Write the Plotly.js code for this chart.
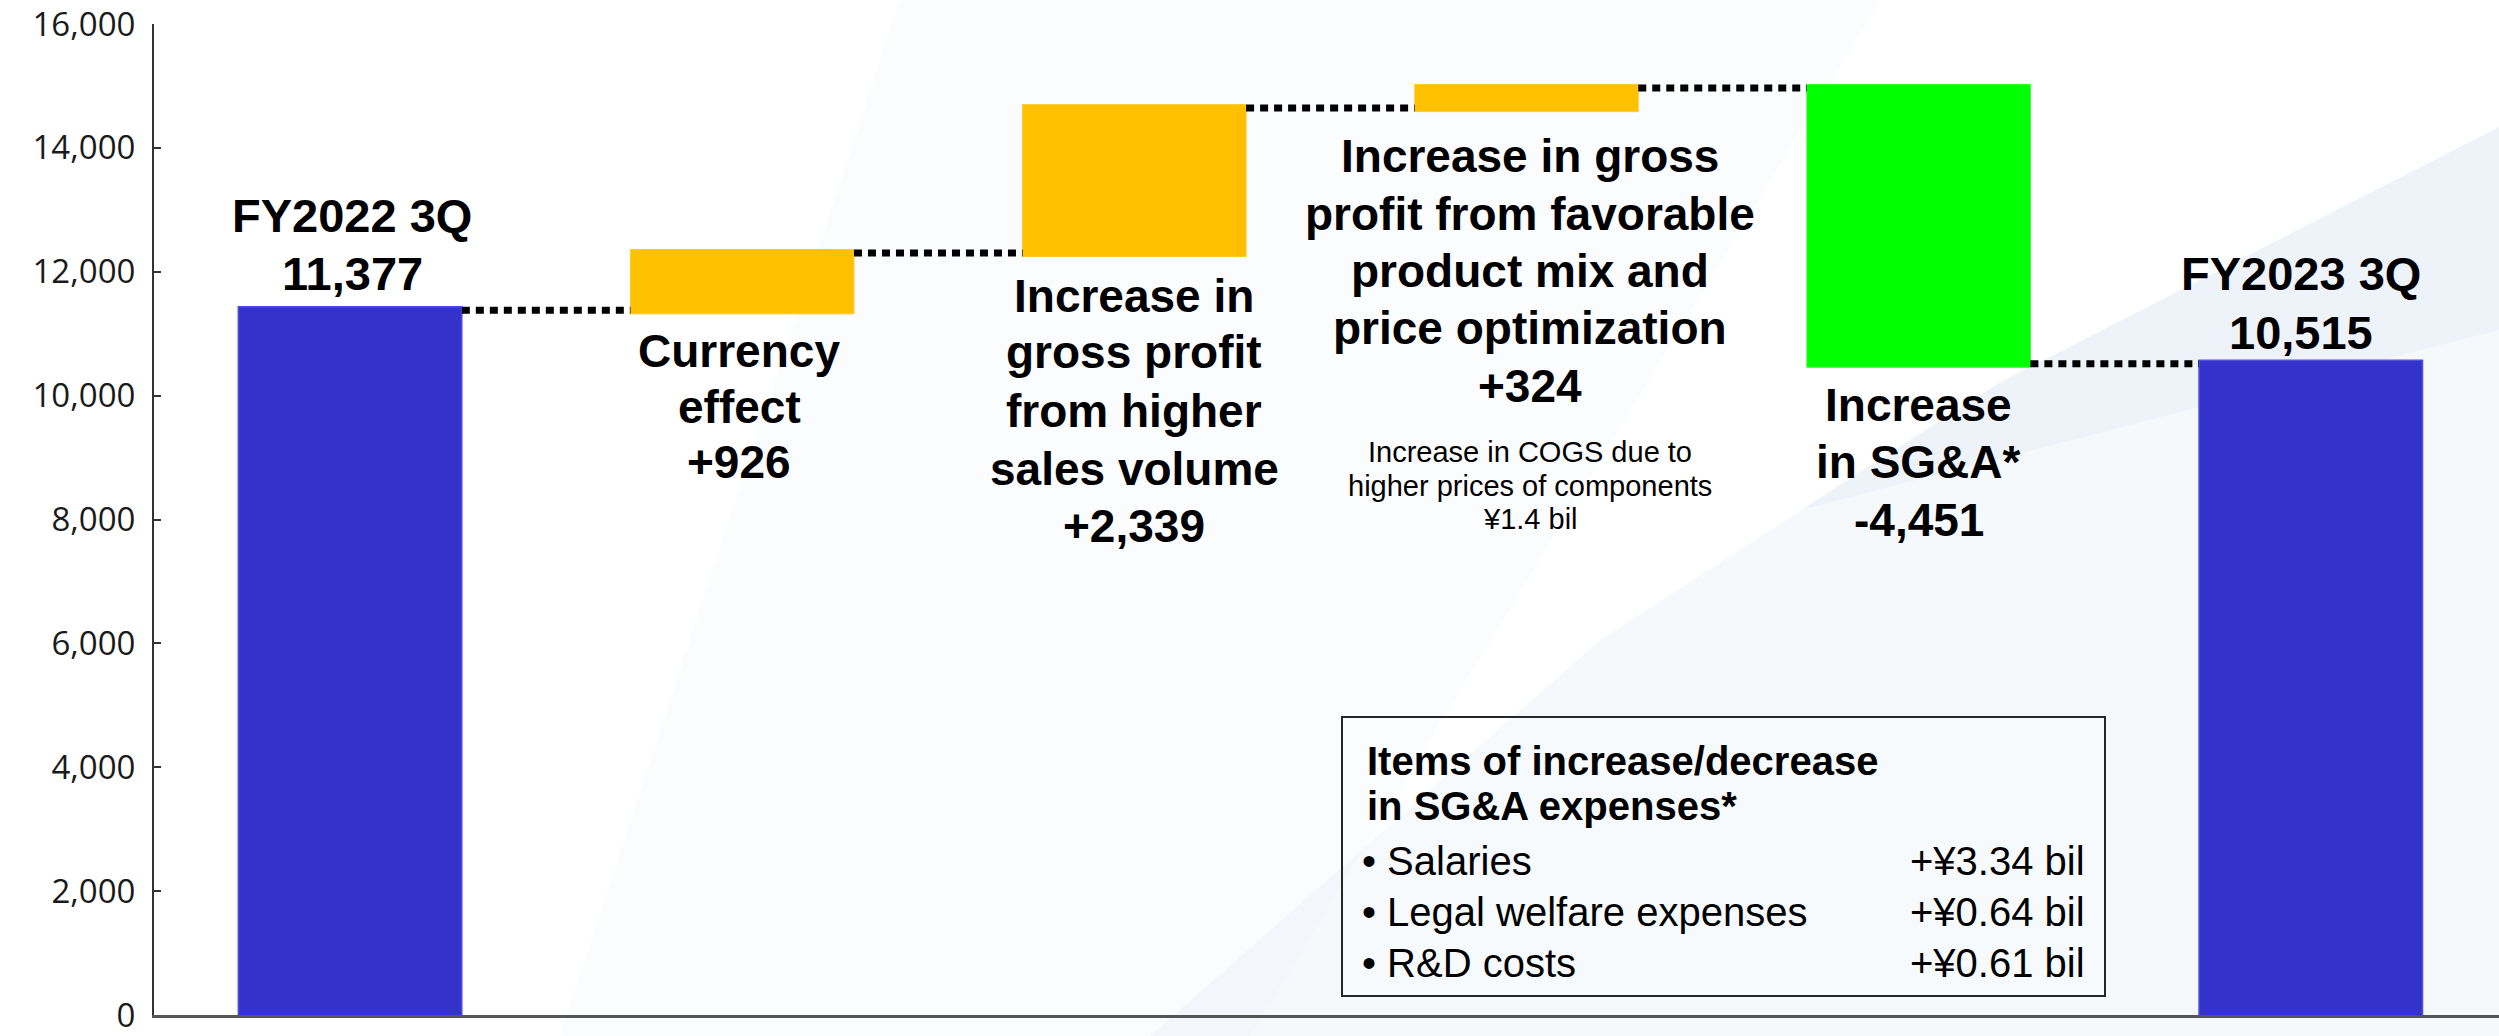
<!DOCTYPE html>
<html>
<head>
<meta charset="utf-8">
<script src="https://cdn.plot.ly/plotly-3.0.1.min.js"></script>
<style>
html,body{margin:0;padding:0;background:#ffffff;}
#chart{width:2499px;height:1036px;}
</style>
</head>
<body>
<div id="chart"></div>
<script>
// ---- data ----
const categories = ['FY2022 3Q', 'Currency effect', 'Higher sales volume', 'Product mix and price', 'Increase in SG&A', 'FY2023 3Q'];
const values = [11377, 926, 2339, 324, -4451, 10515];
const measures = ['absolute', 'relative', 'relative', 'relative', 'relative', 'total'];
const labelTexts = [
  ['FY2022 3Q'],
  ['Currency', 'effect'],
  ['Increase in', 'gross profit', 'from higher', 'sales volume'],
  ['Increase in gross', 'profit from favorable', 'product mix and', 'price optimization'],
  ['Increase', 'in SG&A*'],
  ['FY2023 3Q']
];
const noteLines = ['Increase in COGS due to', 'higher prices of components', '¥1.4 bil'];
const boxTitle = ['Items of increase/decrease', 'in SG&A expenses*'];
const boxItems = ['Salaries', 'Legal welfare expenses', 'R&D costs'];
const boxValues = ['+¥3.34 bil', '+¥0.64 bil', '+¥0.61 bil'];
const yTicks = [0, 2000, 4000, 6000, 8000, 10000, 12000, 14000, 16000];

// ---- layout helpers (pixel -> paper) ----
const W = 2499, H = 1036;
const M = {l: 154, r: 0, t: 24, b: 21};
const PW = W - M.l - M.r, PH = H - M.t - M.b;
const fx = px => (px - M.l) / PW;
const fy = py => (H - M.b - py) / PH;

function fmt(v, signed) {
  const s = Math.abs(v).toLocaleString('en-US');
  if (!signed) return (v < 0 ? '-' : '') + s;
  return (v >= 0 ? '+' : '-') + s;
}

const FONT = 'Liberation Sans, Arial, Helvetica, sans-serif';
const annotations = [];
function addLine(x, xref, xanchor, py, text, size, bold, xshift) {
  annotations.push({
    x: x, xref: xref, xanchor: xanchor, xshift: xshift || 0,
    y: fy(py), yref: 'paper', yanchor: 'middle',
    text: bold ? '<b>' + text + '</b>' : text,
    showarrow: false,
    font: {family: FONT, size: size, color: '#000000'},
    align: xanchor === 'right' ? 'right' : (xanchor === 'left' ? 'left' : 'center')
  });
}

// label line centres (pixels) for each bar's text block
const labelCenters = [
  [215, 273],
  [351, 407, 462],
  [296, 352, 411, 469, 526],
  [156, 214, 271, 328, 386],
  [405, 462, 520],
  [273, 332]
];
const labelSizes = [47, 46, 46, 46, 46, 47];
const labelShift = [2, -3, 0, 4, 0, -10];
categories.forEach((c, i) => {
  const lines = labelTexts[i].slice();
  const signed = (measures[i] === 'relative');
  lines.push(fmt(values[i], signed));
  lines.forEach((t, k) => addLine(c, 'x', 'center', labelCenters[i][k], t, labelSizes[i], true, labelShift[i]));
});
const noteCenters = [452, 486, 519];
noteLines.forEach((t, k) => addLine(categories[3], 'x', 'center', noteCenters[k], t, 29, false, 4));

// text box
const boxTitleY = [761, 806];
boxTitle.forEach((t, k) => addLine(fx(1365), 'paper', 'left', boxTitleY[k], t, 40, true));
const boxItemY = [861, 912, 963];
boxItems.forEach((t, k) => {
  addLine(fx(1360), 'paper', 'left', boxItemY[k], '• ' + t, 40, false);
  addLine(fx(2087), 'paper', 'right', boxItemY[k], boxValues[k], 40, false);
});

function poly(pts, fill) {
  let p = '';
  pts.forEach((q, i) => { p += (i ? ' L ' : 'M ') + fx(q[0]) + ' ' + fy(q[1]); });
  return {type: 'path', xref: 'paper', yref: 'paper', path: p + ' Z', fillcolor: fill, line: {width: 0}, layer: 'below'};
}

// subtle background decoration
const shapes = [
  poly([[900, 0], [1880, 0], [1250, 1036], [560, 1036]], 'rgba(230,236,246,0.16)'),
  poly([[2499, 127], [1999, 383], [1600, 640], [1150, 1036], [2499, 1036]], 'rgba(228,235,247,0.32)'),
  poly([[2499, 127], [1999, 383], [1800, 510], [2499, 330]], 'rgba(224,232,246,0.35)'),
  {type: 'rect', xref: 'paper', yref: 'paper', x0: fx(1342), x1: fx(2105), y0: fy(996), y1: fy(717),
   line: {color: '#262626', width: 2}, fillcolor: 'rgba(255,255,255,0.2)', layer: 'above'}
];

const trace = {
  type: 'waterfall',
  x: categories,
  y: values,
  measure: measures,
  width: 0.57,
  textinfo: 'none',
  hoverinfo: 'none',
  increasing: {marker: {color: '#FFC000', line: {color: '#FFC82E', width: 1}}},
  decreasing: {marker: {color: '#00FF00', line: {color: '#33FF33', width: 1}}},
  totals: {marker: {color: '#3333CC', line: {color: '#5050E0', width: 1.5}}},
  connector: {mode: 'between', line: {color: '#000000', width: 7, dash: '8px,6px'}}
};

const layout = {
  width: W, height: H,
  margin: M,
  paper_bgcolor: '#ffffff',
  plot_bgcolor: 'rgba(0,0,0,0)',
  showlegend: false,
  xaxis: {
    type: 'category',
    range: [-0.5, 5.48],
    showticklabels: false,
    ticks: '',
    showgrid: false,
    zeroline: false,
    showline: true, linecolor: '#555555', linewidth: 2.5
  },
  yaxis: {
    range: [0, 16000],
    tickvals: yTicks,
    tickformat: ',d',
    ticks: 'inside', ticklen: 7, tickwidth: 2, tickcolor: '#333333',
    showgrid: false, zeroline: false,
    showline: true, linecolor: '#333333', linewidth: 2,
    tickfont: {family: 'Open Sans, Noto Sans, sans-serif', size: 33, color: '#1a1a1a'},
    ticklabelstandoff: 10,
    ticklabeloverflow: 'allow'
  },
  annotations: annotations,
  shapes: shapes
};

Plotly.newPlot('chart', [trace], layout, {displayModeBar: false, staticPlot: true});
</script>
</body>
</html>
